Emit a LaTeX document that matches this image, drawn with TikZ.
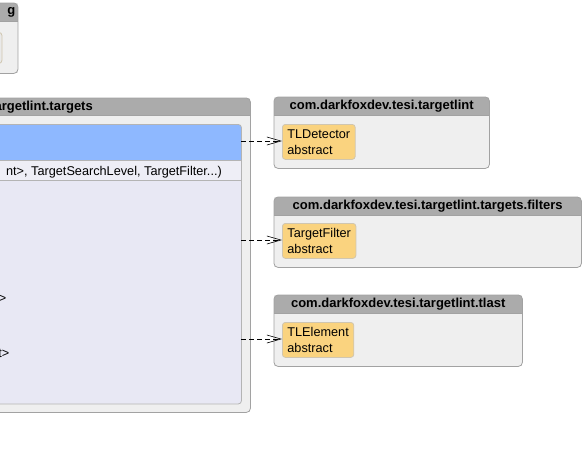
\documentclass[tikz,border=0pt]{standalone}
\usepackage{fontspec}
\setmainfont{Liberation Sans}
\usetikzlibrary{arrows.meta,calc}
\definecolor{pkgfill}{HTML}{EFEFEF}
\definecolor{pkgline}{HTML}{A2A2A2}
\definecolor{hdrfill}{HTML}{ABABAB}
\definecolor{clsfill}{HTML}{FAD37F}
\definecolor{clsline}{HTML}{D0C6B0}
\definecolor{selfill}{HTML}{8EB8FF}
\definecolor{rowfill}{HTML}{EEEEF6}
\definecolor{bodyfill}{HTML}{E8E8F4}
\definecolor{boxline}{HTML}{B4B4B4}
\definecolor{faintfill}{HTML}{E9E9E9}
\newcommand\mypkg[6]{%
  \node[pkgbody, minimum width=#4pt, minimum height=#5pt] (#1) at (#2,#3) {};
  \fill[hdrfill, rounded corners=4pt] (#1.north west) rectangle ($(#1.north east)+(0,18)$);
  \fill[hdrfill] ($(#1.north west)+(0,9)$) rectangle ($(#1.north east)+(0,18)$);
  \draw[pkgline, line width=0.8pt] ($(#1.north west)+(0,18)$) -- ($(#1.north east)+(0,18)$);
  \draw[pkgline, line width=0.8pt, rounded corners=4pt] (#1.north west) rectangle (#1.south east);
  \node[hdrtext] (#1-t) at ($(#1.north)+(0,9.5)$) {#6};
}
\begin{document}
\begin{tikzpicture}[x=1pt,y=-1pt,
  pkgbody/.style={fill=pkgfill, anchor=north west, inner sep=0pt},
  hdrtext/.style={font=\fontsize{13}{15}\selectfont\bfseries, inner sep=0pt},
  clsbox/.style={draw=clsline, fill=clsfill, rounded corners=3pt, line width=0.8pt,
    anchor=north west, align=left, font=\fontsize{12.7}{16}\selectfont,
    inner xsep=5pt, inner ysep=0pt, minimum height=35pt},
  bodytext/.style={font=\fontsize{12.7}{15}\selectfont, inner sep=0pt},
  dep/.style={dash pattern=on 5pt off 3pt, line width=0.6pt,
    -{Straight Barb[length=14pt,width=8pt,line width=0.6pt]}}]
\useasboundingbox (0,0) rectangle (584,451);
\clip (0,0) rectangle (584,451);
\fill[white] (0,0) rectangle (584,451);

% top-left (cropped) package
\node[pkgbody, minimum width=300pt, minimum height=70pt] (pkgT) at (-282.5,3) {};
\fill[hdrfill, rounded corners=4pt] (pkgT.north west) rectangle ($(pkgT.north east)+(0,18)$);
\fill[hdrfill] ($(pkgT.north west)+(0,9)$) rectangle ($(pkgT.north east)+(0,18)$);
\draw[pkgline, line width=0.8pt] ($(pkgT.north west)+(0,18)$) -- ($(pkgT.north east)+(0,18)$);
\draw[pkgline, line width=0.8pt, rounded corners=4pt] (pkgT.north west) rectangle (pkgT.south east);
\node[hdrtext, anchor=east] (pkgT-t) at (15.5,12.5) {g};
\node[draw=clsline, fill=faintfill, rounded corners=3pt, line width=0.8pt,
  anchor=north west, minimum width=100pt, minimum height=31pt, inner sep=0pt] (clsT) at (-98.5,32) {};

% big (cropped) package
\node[pkgbody, minimum width=550pt, minimum height=314pt] (pkgB) at (-300,98) {};
\fill[hdrfill, rounded corners=4pt] (pkgB.north west) rectangle ($(pkgB.north east)+(0,17)$);
\fill[hdrfill] ($(pkgB.north west)+(0,9)$) rectangle ($(pkgB.north east)+(0,17)$);
\draw[pkgline, line width=0.8pt] ($(pkgB.north west)+(0,17)$) -- ($(pkgB.north east)+(0,17)$);
\draw[pkgline, line width=0.8pt, rounded corners=4pt] (pkgB.north west) rectangle (pkgB.south east);
\node[hdrtext, anchor=east] (pkgB-t) at (93,107) {argetlint.targets};

% class box inside big package
\node[fill=bodyfill, rounded corners=3pt, anchor=north west, minimum width=540pt,
  minimum height=279pt, inner sep=0pt] (clsB) at (-299,124.5) {};
\fill[selfill, rounded corners=3pt] (clsB.north west) rectangle ($(clsB.north east)+(0,35.5)$);
\fill[selfill] ($(clsB.north west)+(0,10)$) rectangle ($(clsB.north east)+(0,35.5)$);
\fill[rowfill] ($(clsB.north west)+(0,35.5)$) rectangle ($(clsB.north east)+(0,55.5)$);
\draw[boxline, line width=0.7pt] ($(clsB.north west)+(0,35.5)$) -- ($(clsB.north east)+(0,35.5)$);
\draw[boxline, line width=0.7pt] ($(clsB.north west)+(0,55.5)$) -- ($(clsB.north east)+(0,55.5)$);
\draw[boxline, line width=0.8pt, rounded corners=3pt] (clsB.north west) rectangle (clsB.south east);
\node[bodytext, anchor=base east] (sig) at (222,175) {nt>, TargetSearchLevel, TargetFilter...)};
\node[bodytext, anchor=base east] (f1) at (6.5,302) {>};
\node[bodytext, anchor=base east] (f2) at (9.5,357) {t>};
\coordinate (s1) at (241,141);
\coordinate (s2) at (241,240);
\coordinate (s3) at (241,339);

% right packages
\mypkg{pkg1}{274}{97}{215}{71}{com.darkfoxdev.tesi.targetlint}
\mypkg{pkg2}{274}{197}{307}{70}{com.darkfoxdev.tesi.targetlint.targets.filters}
\mypkg{pkg3}{274}{295}{248}{71}{com.darkfoxdev.tesi.targetlint.tlast}

\node[clsbox] (c1) at (282,124) {TLDetector\\abstract};
\node[clsbox] (c2) at (282,223) {TargetFilter\\abstract};
\node[clsbox] (c3) at (282,322) {TLElement\\abstract};

\draw[dep] (s1) -- (s1 -| c1.west);
\draw[dep] (s2) -- (s2 -| c2.west);
\draw[dep] (s3) -- (s3 -| c3.west);
\end{tikzpicture}
\end{document}
